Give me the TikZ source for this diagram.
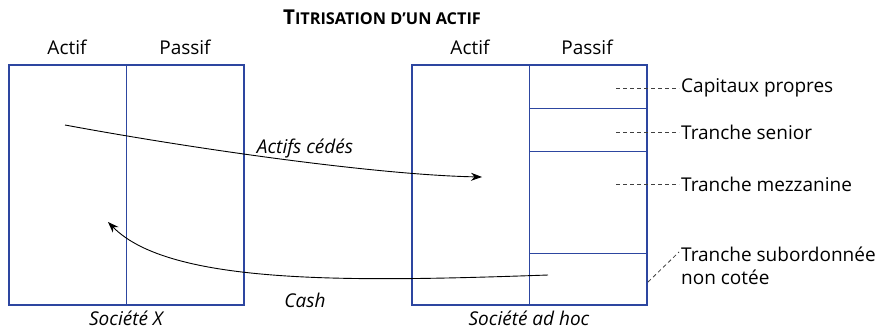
\documentclass[tikz,border=0pt]{standalone}
\usepackage{fontspec}
\setmainfont{Open Sans}
\usetikzlibrary{arrows.meta,positioning}
\definecolor{boxblue}{RGB}{45,70,160}

\begin{document}
\begin{tikzpicture}[
    x=1pt, y=-1pt,
    font=\fontsize{19}{23}\selectfont,
    bilan/.style={draw=boxblue, line width=1.3pt, minimum width=235pt, minimum height=240pt, inner sep=0pt},
    sep/.style={draw=boxblue, line width=1.3pt},
    soc/.style={font=\fontsize{19}{23}\selectfont\itshape},
    flux/.style={-{Stealth[length=11pt, width=8pt]}, line width=0.9pt},
    renvoi/.style={draw=black!75, dash pattern=on 4pt off 3pt, line width=0.8pt},
    tranche/.style={anchor=west, inner sep=2pt, align=left}
]
    \useasboundingbox (0,0) rectangle (880,333);

    % Titre
    \node[font=\fontsize{20.5}{24}\selectfont\bfseries] (titre) at (382,17) {T{\fontsize{16.3}{19}\selectfont ITRISATION D'UN ACTIF}};

    % Bilans
    \node[bilan] (soc_x) at (126.5,185) {};
    \node[bilan] (ad_hoc) at (529.5,185) {};
    \draw[sep] (soc_x.north) -- (soc_x.south);
    \draw[sep] (ad_hoc.north) -- (ad_hoc.south);

    % Tranches du passif
    \draw[sep] ([yshift=-44pt]ad_hoc.north) -- ([yshift=-44pt]ad_hoc.north east);
    \draw[sep] ([yshift=-87pt]ad_hoc.north) -- ([yshift=-87pt]ad_hoc.north east);
    \draw[sep] ([yshift=-189pt]ad_hoc.north) -- ([yshift=-189pt]ad_hoc.north east);

    % Entetes
    \node (actif_g) at (67,47) {Actif};
    \node (passif_g) at (185,47) {Passif};
    \node (actif_d) at (470,47) {Actif};
    \node (passif_d) at (587,47) {Passif};

    % Noms des societes
    \node[soc] (nom_x) at (126,318) {Société X};
    \node[soc] (nom_adhoc) at (529,318) {Société ad hoc};

    % Legende des tranches
    \node[tranche] (capitaux) at (679,88) {Capitaux propres};
    \node[tranche] (senior) at (679,132) {Tranche senior};
    \node[tranche] (mezzanine) at (679,184) {Tranche mezzanine};
    \node[tranche, anchor=north west] (subord) at (679,245) {Tranche subordonnée\\non cotée};
    \coordinate (cap_pied) at (616,88);
    \coordinate (sen_pied) at (616,132);
    \coordinate (mez_pied) at (616,184);
    \coordinate (sub_pied) at (648,282);
    \draw[renvoi] (cap_pied) -- (capitaux.west);
    \draw[renvoi] (sen_pied) -- (senior.west);
    \draw[renvoi] (mez_pied) -- (mezzanine.west);
    \draw[renvoi] (sub_pied) -- ([yshift=-7pt]subord.north west);

    % Flux
    \coordinate (cede_dep) at (65,125);
    \coordinate (cede_arr) at (482,177);
    \coordinate (cash_dep) at (548,275);
    \coordinate (cash_arr) at (108,222);
    \draw[flux] (cede_dep) .. controls (200,150) and (380,175) .. (cede_arr);
    \draw[flux] (cash_dep) .. controls (350,282) and (170,285) .. (cash_arr);
    \node[soc] (cedes) at (305,148) {Actifs cédés};
    \node[soc] (cash) at (305,300) {Cash};

\end{tikzpicture}
\end{document}
